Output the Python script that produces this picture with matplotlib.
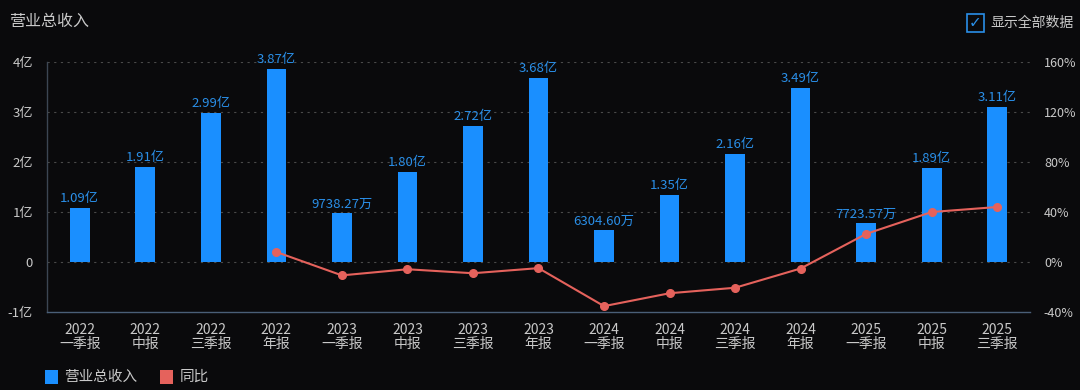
import matplotlib
matplotlib.use("Agg")
import matplotlib.pyplot as plt
from matplotlib.patches import Rectangle
import numpy as np

plt.rcParams['font.family'] = ['Noto Sans CJK SC', 'DejaVu Sans']

years = ["2022", "2022", "2022", "2022", "2023", "2023", "2023", "2023",
         "2024", "2024", "2024", "2024", "2025", "2025", "2025"]
periods = ["一季报", "中报", "三季报", "年报", "一季报", "中报", "三季报", "年报",
           "一季报", "中报", "三季报", "年报", "一季报", "中报", "三季报"]
revenue_yi = [1.09, 1.91, 2.99, 3.87, 0.973827, 1.80, 2.72, 3.68,
              0.630460, 1.35, 2.16, 3.49, 0.772357, 1.89, 3.11]
revenue_labels = ["1.09亿", "1.91亿", "2.99亿", "3.87亿", "9738.27万", "1.80亿", "2.72亿", "3.68亿",
                  "6304.60万", "1.35亿", "2.16亿", "3.49亿", "7723.57万", "1.89亿", "3.11亿"]
yoy_pct = [None, None, None, 8.0, -10.7, -5.8, -9.0, -4.9,
           -35.3, -25.0, -20.6, -5.2, 22.5, 40.0, 44.0]

left_ticks = [-1, 0, 1, 2, 3, 4]
left_tick_labels = ["-1亿", "0", "1亿", "2亿", "3亿", "4亿"]
right_ticks = [-40, 0, 40, 80, 120, 160]
right_tick_labels = ["-40%", "0%", "40%", "80%", "120%", "160%"]

BG = "#0a0a0c"
BLUE = "#1a8fff"
RED = "#e5625c"
TXT = "#c9c9c9"

fig = plt.figure(figsize=(10.8, 3.9), dpi=100, facecolor=BG)
ax = fig.add_axes([0.0435, 0.2, 0.9102, 0.641], facecolor=BG)
x = np.arange(len(years))
ax.bar(x, revenue_yi, width=0.3, color=BLUE, zorder=2)
ax.set_xlim(-0.5, len(years) - 0.5)
ax.set_ylim(-1, 4)
ax.set_yticks(left_ticks)
ax.set_yticklabels(left_tick_labels)
for t in left_ticks[1:]:
    ax.axhline(t, color="#4a4a4a", lw=0.8, ls=(0, (2, 4)), zorder=1)
ax.set_xticks(x)
ax.set_xticklabels([f"{y}\n{p}" for y, p in zip(years, periods)], linespacing=1.0)
ax.tick_params(axis='x', length=0, colors=TXT, labelsize=10, pad=8)
ax.tick_params(axis='y', length=0, colors=TXT, labelsize=9.5, pad=10)
for s in ["top", "right"]:
    ax.spines[s].set_visible(False)
ax.spines["left"].set_color("#3c4653")
ax.spines["bottom"].set_color("#4a5f78")
ax.spines["left"].set_linewidth(1)
ax.spines["bottom"].set_linewidth(1)

for xi, v, lab in zip(x, revenue_yi, revenue_labels):
    ax.annotate(lab, (xi, v), xytext=(0, 2), textcoords="offset points",
                ha="center", va="bottom", color="#2a8fe8", fontsize=9.5, zorder=4)

ax2 = ax.twinx()
ax2.set_ylim(-40, 160)
ax2.set_yticks(right_ticks)
ax2.set_yticklabels(right_tick_labels)
ax2.tick_params(axis='y', length=0, colors=TXT, labelsize=9, pad=10)
for s in ["top", "right", "left", "bottom"]:
    ax2.spines[s].set_visible(False)
xi_y = [xi for xi, v in zip(x, yoy_pct) if v is not None]
yv = [v for v in yoy_pct if v is not None]
ax2.plot(xi_y, yv, color=RED, lw=1.5, marker="o", ms=5.5, zorder=5)

fig.text(0.008, 0.945, "营业总收入", color=TXT, fontsize=11.5, va="center", ha="left")
# checkbox
fig.patches.append(Rectangle((0.8955, 0.918), 0.0157, 0.045, transform=fig.transFigure,
                             fill=False, edgecolor="#2a8fe8", lw=1.2))
fig.text(0.9033, 0.941, "✓", color="#2a8fe8", fontsize=11, ha="center", va="center",
         family=['DejaVu Sans'])
fig.text(0.9175, 0.941, "显示全部数据", color=TXT, fontsize=10, va="center", ha="left")

# legend
fig.patches.append(Rectangle((0.0415, 0.0155), 0.0125, 0.037, transform=fig.transFigure,
                             facecolor=BLUE, edgecolor="none"))
fig.text(0.059, 0.034, "营业总收入", color=TXT, fontsize=10.5, va="center", ha="left")
fig.patches.append(Rectangle((0.148, 0.0155), 0.0125, 0.037, transform=fig.transFigure,
                             facecolor=RED, edgecolor="none"))
fig.text(0.166, 0.034, "同比", color=TXT, fontsize=10.5, va="center", ha="left")

fig.savefig("out.png", dpi=100, facecolor=BG)
